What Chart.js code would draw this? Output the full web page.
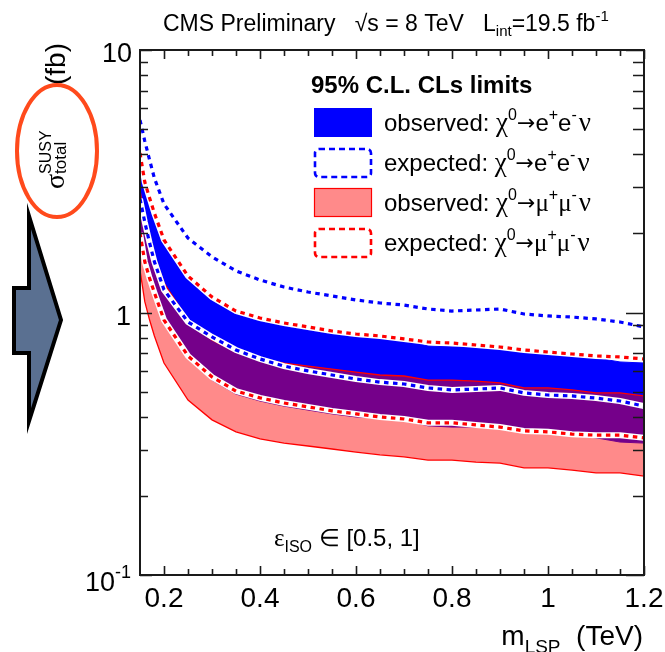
<!DOCTYPE html>
<html>
<head>
<meta charset="utf-8">
<script src="https://cdn.jsdelivr.net/npm/chart.js@4.4.1/dist/chart.umd.min.js"></script>
<style>
  html, body { margin: 0; padding: 0; background: #ffffff; }
  #wrap { width: 665px; height: 652px; position: relative; }
  canvas { display: block; }
</style>
</head>
<body>
<div id="wrap"><canvas id="c" width="665" height="652"></canvas></div>
<script>
// LSP mass points (TeV)
const massTeV = [0.15, 0.16, 0.17, 0.18, 0.20, 0.25, 0.30, 0.35, 0.40, 0.45, 0.50, 0.55, 0.60,
                 0.65, 0.70, 0.75, 0.80, 0.85, 0.90, 0.95, 1.00, 1.05, 1.10, 1.15, 1.20];

// chi0 -> e+ e- nu : observed band (eps_ISO = 0.5 edge / eps_ISO = 1 edge), fb
const eeObsHigh = [3.71, 3.03, 2.64, 2.31, 1.82, 1.34, 1.116, 0.987, 0.928, 0.888, 0.858, 0.828, 0.807,
                   0.800, 0.786, 0.745, 0.739, 0.739, 0.733, 0.701, 0.701, 0.689, 0.671, 0.648, 0.642];
const eeObsLow  = [1.84, 1.50, 1.31, 1.146, 0.904, 0.665, 0.553, 0.489, 0.460, 0.440, 0.425, 0.411, 0.400,
                   0.396, 0.390, 0.370, 0.366, 0.366, 0.363, 0.347, 0.347, 0.341, 0.333, 0.321, 0.318];
// chi0 -> e+ e- nu : expected limits
const eeExpHigh = [5.41, 4.50, 3.81, 3.25, 2.59, 1.92, 1.63, 1.44, 1.33, 1.25, 1.197, 1.156, 1.116,
                   1.087, 1.068, 1.031, 1.013, 1.022, 1.031, 0.987, 0.970, 0.961, 0.945, 0.920, 0.881];
const eeExpLow  = [2.71, 2.21, 1.84, 1.56, 1.22, 0.920, 0.807, 0.720, 0.665, 0.625, 0.599, 0.578, 0.558,
                   0.543, 0.534, 0.516, 0.507, 0.511, 0.516, 0.494, 0.485, 0.481, 0.472, 0.460, 0.440];

// chi0 -> mu+ mu- nu : observed band
const mmObsHigh = [2.93, 2.21, 1.89, 1.64, 1.295, 0.936, 0.786, 0.707, 0.665, 0.642, 0.625, 0.609, 0.593,
                   0.578, 0.573, 0.553, 0.553, 0.548, 0.539, 0.516, 0.516, 0.507, 0.494, 0.494, 0.481];
const mmObsLow  = [1.45, 1.10, 0.936, 0.814, 0.642, 0.464, 0.390, 0.351, 0.330, 0.318, 0.310, 0.302, 0.294,
                   0.287, 0.282, 0.274, 0.274, 0.269, 0.267, 0.256, 0.256, 0.251, 0.245, 0.245, 0.238];
// chi0 -> mu+ mu- nu : expected limits
const mmExpHigh = [4.05, 3.14, 2.73, 2.39, 1.89, 1.377, 1.146, 1.013, 0.953, 0.912, 0.881, 0.850, 0.828,
                   0.814, 0.793, 0.772, 0.765, 0.752, 0.739, 0.720, 0.707, 0.695, 0.683, 0.677, 0.665];
const mmExpLow  = [2.01, 1.56, 1.35, 1.19, 0.936, 0.683, 0.568, 0.502, 0.473, 0.452, 0.437, 0.422, 0.411,
                   0.400, 0.393, 0.380, 0.380, 0.373, 0.366, 0.354, 0.351, 0.344, 0.341, 0.341, 0.333];

// axis tick values
const xMajorTicks = [0.2, 0.4, 0.6, 0.8, 1.0, 1.2];
const xTickLabels = ['0.2', '0.4', '0.6', '0.8', '1', '1.2'];
const yDecades = [0.1, 1, 10];

const SANS = '"Liberation Sans", Arial, Helvetica, sans-serif';
const SERIF = '"Liberation Serif", "DejaVu Serif", serif';
const ARROWFONT = '"DejaVu Sans", sans-serif';
const BLUE = '#0000ff';
const RED = '#ff0000';
const RED_SHADE = 'rgba(255, 0, 0, 0.46)';

const canvas = document.getElementById('c');
const ctx2d = canvas.getContext('2d');

const pts = ys => massTeV.map((m, i) => ({ x: m, y: ys[i] }));

function band(label, ys, fill, bg, border, bw, order) {
  return { label, data: pts(ys), fill, backgroundColor: bg, borderColor: border,
           borderWidth: bw, pointRadius: 0, tension: 0, order, clip: 0 };
}
function underlay(label, ys, order) {
  return { label, data: pts(ys), fill: false, borderColor: '#ffffff', borderWidth: 6,
           pointRadius: 0, tension: 0, order, clip: 0 };
}
function dotted(label, ys, color, order) {
  return { label, data: pts(ys), fill: false, borderColor: color, borderWidth: 3.2,
           borderDash: [4.5, 4.5], borderCapStyle: 'butt', pointRadius: 0, tension: 0, order, clip: 0 };
}

// draws a run of text pieces (sub/superscripts) along one baseline
function richText(ctx, x, y, parts, align) {
  const widths = parts.map(p => {
    ctx.font = (p.bold ? 'bold ' : '') + p.size + 'px ' + (p.family || SANS);
    return ctx.measureText(p.t).width + (p.gap || 0);
  });
  // stacked pieces share x with the previous one
  let cx = 0, runMax = 0;
  const xs = [];
  parts.forEach((p, i) => {
    if (p.stack) {
      xs.push(xs[i - 1]);
      runMax = Math.max(runMax, widths[i]);
      cx = xs[i - 1] + runMax;
    } else {
      xs.push(cx);
      runMax = widths[i];
      cx += widths[i];
    }
  });
  const total = cx;
  let x0 = x;
  if (align === 'right') x0 = x - total;
  else if (align === 'center') x0 = x - total / 2;
  ctx.textBaseline = 'alphabetic';
  ctx.textAlign = 'left';
  parts.forEach((p, i) => {
    ctx.font = (p.bold ? 'bold ' : '') + p.size + 'px ' + (p.family || SANS);
    ctx.fillStyle = p.color || '#000000';
    ctx.fillText(p.t, x0 + xs[i] + (p.pre || 0), y + (p.dy || 0));
  });
  return total;
}

function roundRect(ctx, x, y, w, h, r) {
  ctx.beginPath();
  ctx.moveTo(x + r, y);
  ctx.lineTo(x + w - r, y);
  ctx.arcTo(x + w, y, x + w, y + r, r);
  ctx.lineTo(x + w, y + h - r);
  ctx.arcTo(x + w, y + h, x + w - r, y + h, r);
  ctx.lineTo(x + r, y + h);
  ctx.arcTo(x, y + h, x, y + h - r, r);
  ctx.lineTo(x, y + r);
  ctx.arcTo(x, y, x + r, y, r);
  ctx.closePath();
}

// frame and inward ticks on all four sides
const frameTicks = {
  id: 'frameTicks',
  afterDatasetsDraw(chart) {
    const { ctx, chartArea: a, scales } = chart;
    const xs = scales.x, ys = scales.y;
    ctx.save();
    ctx.strokeStyle = '#1a1a1a';
    ctx.lineWidth = 1.6;
    ctx.beginPath();
    // x ticks every 0.05, major every 0.2
    for (let k = 4; k <= 24; k++) {
      const v = k * 0.05;
      const px = Math.round(xs.getPixelForValue(v)) + 0.5;
      const major = (k % 4 === 0);
      const len = major ? 9 : 6;
      ctx.moveTo(px, a.bottom); ctx.lineTo(px, a.bottom - len);
      ctx.moveTo(px, a.top); ctx.lineTo(px, a.top + len);
    }
    // y log ticks
    for (let d = 0; d < 2; d++) {
      const base = yDecades[d];
      for (let m = 1; m <= 10; m++) {
        const v = base * m;
        const py = Math.round(ys.getPixelForValue(v)) + 0.5;
        const major = (m === 1 || m === 10);
        const ll = major ? 12 : 8;
        const lr = major ? 18 : 11;
        ctx.moveTo(a.left, py); ctx.lineTo(a.left + ll, py);
        ctx.moveTo(a.right, py); ctx.lineTo(a.right - lr, py);
      }
    }
    ctx.stroke();
    ctx.lineWidth = 2;
    ctx.strokeRect(a.left, a.top, a.right - a.left, a.bottom - a.top);
    ctx.restore();
  }
};

// labels, legend, titles and the overlaid marks
const decorations = {
  id: 'decorations',
  afterDraw(chart) {
    const { ctx, scales } = chart;
    const xs = scales.x, ys = scales.y;
    ctx.save();

    // x tick labels
    ctx.fillStyle = '#000';
    ctx.font = '28px ' + SANS;
    ctx.textAlign = 'center';
    ctx.textBaseline = 'alphabetic';
    xMajorTicks.forEach((v, i) => {
      ctx.fillText(xTickLabels[i], xs.getPixelForValue(v), 607);
    });

    // y tick labels
    ctx.textAlign = 'right';
    ctx.font = '27px ' + SANS;
    ctx.fillText('10', 132, ys.getPixelForValue(10) + 12);
    ctx.fillText('1', 131, ys.getPixelForValue(1) + 12);
    richText(ctx, 131, ys.getPixelForValue(0.1) + 16, [
      { t: '10', size: 27 },
      { t: '-1', size: 18, dy: -13 }
    ], 'right');

    // x axis title
    richText(ctx, 643, 645, [
      { t: 'm', size: 28 },
      { t: 'LSP', size: 19, dy: 8 },
      { t: '  (TeV)', size: 28 }
    ], 'right');

    // y axis title (rotated)
    ctx.save();
    ctx.translate(64, 189);
    ctx.rotate(-Math.PI / 2);
    richText(ctx, 0, 0, [
      { t: 'σ', size: 28, family: SERIF },
      { t: 'SUSY', size: 16, dy: -13 },
      { t: 'total', size: 17, dy: 2, stack: true }
    ], 'left');
    ctx.font = '28px ' + SANS;
    ctx.fillStyle = '#000';
    ctx.textAlign = 'left';
    ctx.fillText('(fb)', 104, 1);
    ctx.restore();

    // header
    richText(ctx, 163, 31, [
      { t: 'CMS Preliminary   √s = 8 TeV   L', size: 23 },
      { t: 'int', size: 15, dy: 5 },
      { t: '=19.5 fb', size: 23 },
      { t: '-1', size: 15, dy: -10 }
    ], 'left');

    // isolation range note
    richText(ctx, 274, 546, [
      { t: 'ε', size: 25, family: SERIF },
      { t: 'ISO', size: 16, dy: 6 },
      { t: ' ∈ [0.5, 1]', size: 24 }
    ], 'left');

    // legend
    ctx.fillStyle = '#000';
    ctx.font = 'bold 24px ' + SANS;
    ctx.textAlign = 'left';
    ctx.fillText('95% C.L. CLs limits', 311, 93);

    const bx = 314, bw = 58, bh = 29;
    // observed ee
    ctx.fillStyle = BLUE;
    ctx.fillRect(bx, 108, bw, bh);
    // expected ee
    ctx.setLineDash([6, 4]);
    ctx.lineWidth = 2.6;
    ctx.strokeStyle = BLUE;
    roundRect(ctx, bx + 1, 149, bw - 2, bh - 1, 4);
    ctx.stroke();
    // observed mumu
    ctx.setLineDash([]);
    ctx.fillStyle = RED_SHADE;
    ctx.fillRect(bx, 188, bw, bh);
    ctx.lineWidth = 1.2;
    ctx.strokeStyle = RED;
    ctx.strokeRect(bx + 0.5, 188.5, bw - 1, bh - 1);
    // expected mumu
    ctx.setLineDash([6, 4]);
    ctx.lineWidth = 2.6;
    roundRect(ctx, bx + 1, 229, bw - 2, bh - 1, 4);
    ctx.stroke();
    ctx.setLineDash([]);

    const row = (y, word, lep) => {
      const lf = lep === 'μ' ? SERIF : SANS;
      const ls = lep === 'μ' ? 25 : 24;
      return richText(ctx, 384, y, [
        { t: word + ': ', size: 24 },
        { t: 'χ', size: 27, family: SERIF },
        { t: '0', size: 16, dy: -11 },
        { t: '→', size: 22, family: ARROWFONT, dy: -1 },
        { t: lep, size: ls, family: lf },
        { t: '+', size: 16, dy: -11 },
        { t: lep, size: ls, family: lf },
        { t: '-', size: 16, dy: -11, gap: 2 },
        { t: 'ν', size: 27, family: SERIF }
      ], 'left');
    };
    row(131, 'observed', 'e');
    row(171, 'expected', 'e');
    row(211, 'observed', 'μ');
    row(251, 'expected', 'μ');

    // highlight ellipse around the cross-section symbol
    ctx.beginPath();
    ctx.ellipse(57, 151, 40, 66, 0, 0, Math.PI * 2);
    ctx.lineWidth = 4;
    ctx.strokeStyle = '#ff4a1c';
    ctx.stroke();

    // pointer arrow
    ctx.beginPath();
    ctx.moveTo(29, 216);
    ctx.lineTo(61, 320);
    ctx.lineTo(29, 421);
    ctx.lineTo(29, 353);
    ctx.lineTo(14, 353);
    ctx.lineTo(14, 288);
    ctx.lineTo(29, 288);
    ctx.closePath();
    ctx.fillStyle = '#5a7091';
    ctx.fill();
    ctx.lineWidth = 4;
    ctx.lineJoin = 'miter';
    ctx.strokeStyle = '#000';
    ctx.stroke();

    ctx.restore();
  }
};

new Chart(ctx2d, {
  type: 'line',
  data: {
    datasets: [
      band('eeObsHigh', eeObsHigh, '+1', BLUE, BLUE, 1, 20),
      band('eeObsLow', eeObsLow, false, BLUE, BLUE, 1, 19),
      band('mmObsHigh', mmObsHigh, '+1', RED_SHADE, RED, 1.3, 18),
      band('mmObsLow', mmObsLow, false, RED_SHADE, RED, 1.3, 17),
      underlay('eeExpHighBg', eeExpHigh, 16),
      underlay('eeExpLowBg', eeExpLow, 15),
      underlay('mmExpHighBg', mmExpHigh, 14),
      underlay('mmExpLowBg', mmExpLow, 13),
      dotted('eeExpHigh', eeExpHigh, BLUE, 4),
      dotted('eeExpLow', eeExpLow, BLUE, 3),
      dotted('mmExpHigh', mmExpHigh, RED, 2),
      dotted('mmExpLow', mmExpLow, RED, 1)
    ]
  },
  options: {
    responsive: false,
    animation: false,
    devicePixelRatio: 1,
    events: [],
    layout: { padding: { left: 140, right: 21, top: 50, bottom: 77 } },
    scales: {
      x: { type: 'linear', min: 0.15, max: 1.2, display: false },
      y: { type: 'logarithmic', min: 0.1, max: 10, display: false }
    },
    plugins: { legend: { display: false }, tooltip: { enabled: false } }
  },
  plugins: [frameTicks, decorations]
});
</script>
</body>
</html>
